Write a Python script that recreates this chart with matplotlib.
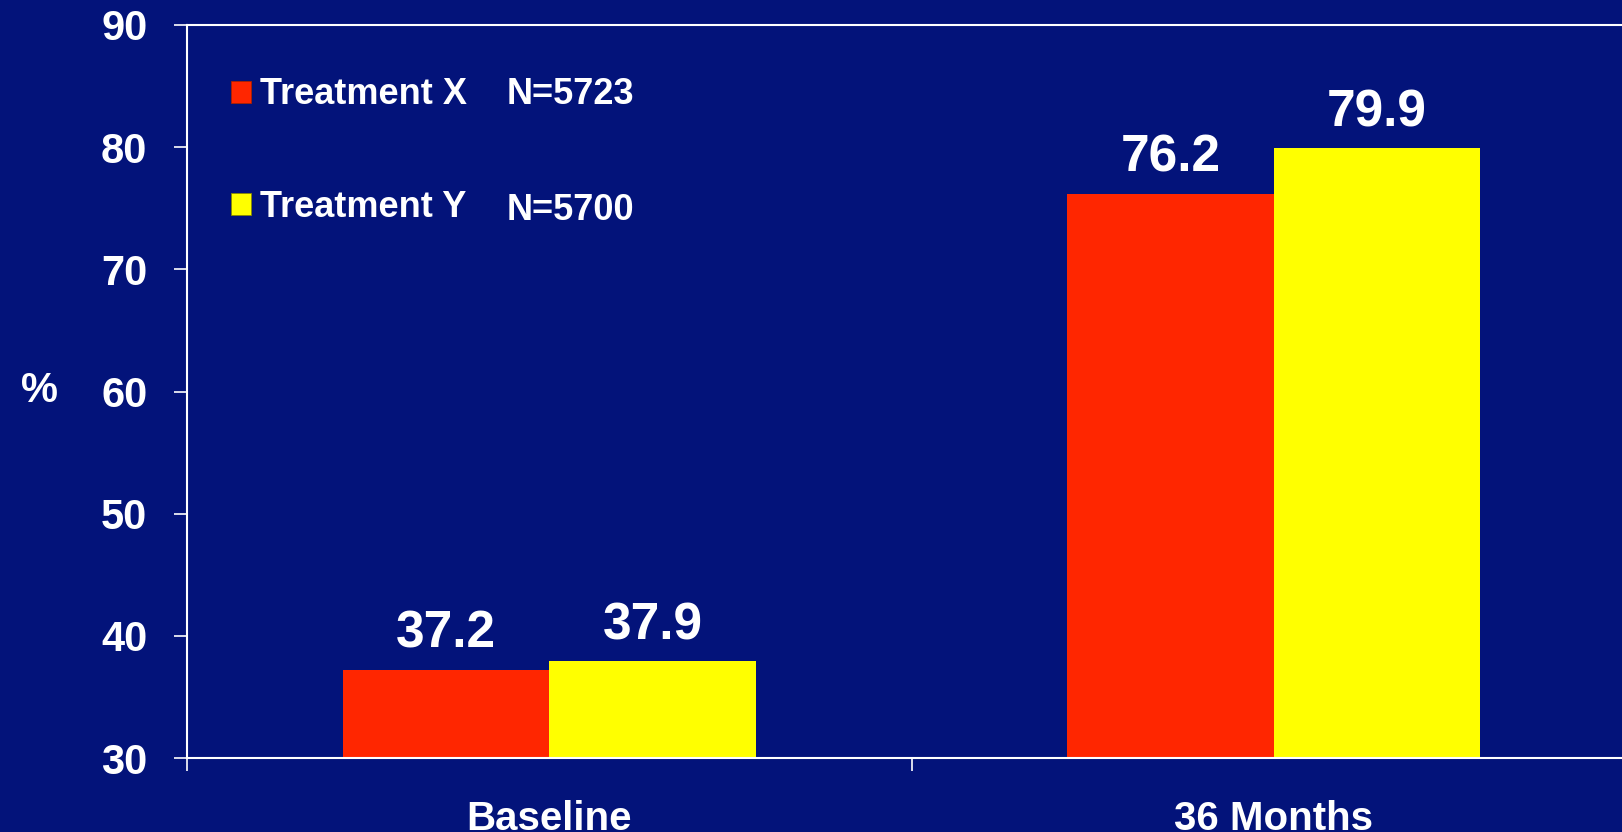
import numpy as np
import matplotlib.pyplot as plt
from matplotlib.patches import Patch

plt.rcParams['font.family'] = ['Liberation Sans', 'DejaVu Sans']
plt.rcParams['font.weight'] = 'bold'

# data
categories = ['Baseline', '36 Months']
series_names = ['Treatment X', 'Treatment Y']
series_n = ['N=5723', 'N=5700']
treatment_x = [37.2, 76.2]
treatment_y = [37.9, 79.9]

bg = '#03137a'
red = '#ff2600'
yellow = '#ffff00'

fig = plt.figure(figsize=(16.22, 8.32), dpi=100, facecolor=bg)
ax = fig.add_axes([187 / 1622, 74 / 832, 1449 / 1622, 733 / 832])
ax.set_facecolor(bg)

x = np.arange(len(categories))
w = 0.285
bars_x = ax.bar(x - w / 2, treatment_x, w, bottom=0, color=red, linewidth=0)
bars_y = ax.bar(x + w / 2, treatment_y, w, bottom=0, color=yellow, linewidth=0)

for bars, vals in ((bars_x, treatment_x), (bars_y, treatment_y)):
    for b, v in zip(bars, vals):
        ax.annotate(f'{v:.1f}', (b.get_x() + b.get_width() / 2, v),
                    xytext=(0, 16), textcoords='offset points',
                    ha='center', va='baseline', color='white',
                    fontsize=37, fontweight='bold')

ax.set_ylim(30, 90)
ax.set_xlim(-0.5, 1.5)
ax.set_yticks(range(30, 91, 10))
ax.tick_params(axis='y', colors='white', labelsize=30, length=9.5, width=1.2, pad=19)

# boundary ticks between categories, labels at category centres
ax.set_xticks([-0.5, 0.5, 1.5])
ax.set_xticklabels([])
ax.set_xticks(x, minor=True)
ax.set_xticklabels(categories, minor=True)
ax.tick_params(axis='x', which='major', colors='white', length=9, width=1.2)
ax.tick_params(axis='x', which='minor', length=0, labelsize=29, labelcolor='white', pad=30)

for side in ['left', 'top', 'bottom']:
    ax.spines[side].set_color('white')
    ax.spines[side].set_linewidth(1.5)
ax.spines['right'].set_visible(False)

fig.text(39 / 1622, 1 - 391 / 832, '%', color='white', fontsize=30,
         fontweight='bold', ha='center', va='center')

handles = [Patch(facecolor=red, edgecolor='#aa2200', linewidth=0.6),
           Patch(facecolor=yellow, edgecolor='#888800', linewidth=0.6)]
leg = ax.legend(handles, series_names, loc='upper left',
                bbox_to_anchor=(30 / 1449, 1 - 38 / 733),
                frameon=False, fontsize=26, handlelength=0.55, handleheight=0.55,
                handletextpad=0.25, labelspacing=2.15, borderaxespad=0)
for t in leg.get_texts():
    t.set_color('white')

for name_n, ypix in zip(series_n, [95, 210]):
    fig.text(507 / 1622, 1 - ypix / 832, name_n, color='white', fontsize=26,
             fontweight='bold', ha='left', va='center')

fig.savefig('out.png', dpi=100, facecolor=bg)
